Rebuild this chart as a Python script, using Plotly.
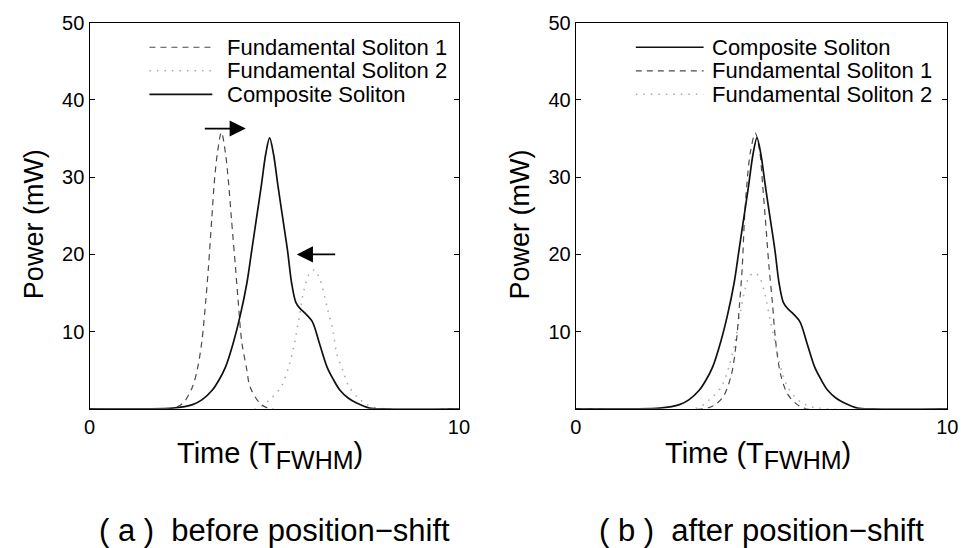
import plotly.graph_objects as go

# Time axis in units of T_FWHM, power in mW
# Composite soliton (same pulse in both panels)
t_comp = [0.0, 1.5, 2.26, 2.79, 3.05, 3.32, 3.5, 3.68, 3.90, 4.08, 4.26, 4.39, 4.52, 4.65,
          4.77, 4.875, 4.98, 5.10, 5.23, 5.36, 5.47, 5.585, 5.70, 5.81, 6.03, 6.21, 6.43,
          6.60, 6.78, 7.0, 7.23, 7.58, 8.0, 10.0]
p_comp = [0, 0, 0.1, 0.55, 1.2, 2.4, 3.7, 5.4, 8.7, 12.1, 16.3, 20.5, 24.7, 28.9,
          33.0, 35.1, 33.0, 28.9, 24.7, 20.5, 16.3, 13.8, 13.0, 12.5, 11.3, 8.7, 5.4,
          3.8, 2.4, 1.4, 0.75, 0.1, 0, 0]

# (a) before position-shift
t_s1_before = [0, 2.2, 2.53, 2.79, 2.93, 3.04, 3.15, 3.22, 3.31, 3.37, 3.46, 3.57, 3.68,
               3.77, 3.84, 3.95, 4.02, 4.12, 4.26, 4.34, 4.61, 4.9, 10]
p_s1_before = [0, 0, 0.75, 2.9, 5.4, 8.7, 14.2, 18.4, 24.7, 28.9, 33.1, 35.8, 33.1,
               28.9, 24.7, 18.4, 14.2, 8.7, 5.0, 2.9, 0.75, 0, 0]
t_s2_before = [0, 4.5, 4.88, 5.19, 5.40, 5.54, 5.67, 5.81, 5.95, 6.08, 6.22, 6.43, 6.60,
               6.69, 6.87, 7.02, 7.32, 7.7, 10]
p_s2_before = [0, 0, 1.2, 2.9, 5.6, 8.3, 11.7, 15.5, 17.5, 18.0, 17.0, 13.2, 9.8,
               7.2, 4.8, 2.9, 1.2, 0.2, 0]

# (b) after position-shift
t_s1_after = [0, 3.4, 3.70, 3.97, 4.19, 4.32, 4.41, 4.48, 4.54, 4.60, 4.70, 4.83, 4.95,
              5.03, 5.10, 5.20, 5.29, 5.38, 5.51, 5.69, 5.91, 6.2, 10]
p_s1_after = [0, 0, 0.4, 1.6, 4.5, 8.7, 13.8, 18.4, 24.7, 28.9, 33.3, 35.7, 33.3,
              28.9, 24.7, 18.4, 13.8, 8.7, 4.5, 2.0, 0.75, 0, 0]
t_s2_after = [0, 3.2, 3.60, 3.92, 4.13, 4.27, 4.40, 4.54, 4.68, 4.82, 4.96, 5.10, 5.24,
              5.38, 5.56, 5.72, 6.02, 6.4, 10]
p_s2_after = [0, 0, 1.2, 2.9, 5.6, 8.3, 11.7, 15.2, 17.2, 17.6, 16.9, 14.6, 11.3,
              8.2, 4.6, 2.7, 1.0, 0.2, 0]

x_ticks = [0, 10]
y_ticks = [10, 20, 30, 40, 50]
name_comp = "Composite Soliton"
name_s1 = "Fundamental Soliton 1"
name_s2 = "Fundamental Soliton 2"
captions = ["( a )  before position\u2212shift", "( b )  after position\u2212shift"]

W, H = 975, 548
FONT = "Liberation Sans, Arial, sans-serif"

STYLE = {
    "comp": dict(color="#111111", width=1.7, dash="solid"),
    "s1": dict(color="#4a4a4a", width=1.2, dash="6px,5px"),
    "s2": dict(color="#ababab", width=1.6, dash="1.5px,6px"),
}


def px(x):
    return x / W


def py(y):
    return 1 - y / H


fig = go.Figure()


def add_curve(t, p, key, xa, ya):
    fig.add_trace(go.Scatter(
        x=t, y=p, mode="lines", line=dict(shape="spline", smoothing=0.9, **STYLE[key]),
        xaxis=xa, yaxis=ya, showlegend=False, hoverinfo="skip"))


# panel (a)
add_curve(t_s2_before, p_s2_before, "s2", "x", "y")
add_curve(t_s1_before, p_s1_before, "s1", "x", "y")
add_curve(t_comp, p_comp, "comp", "x", "y")
# panel (b)
add_curve(t_s2_after, p_s2_after, "s2", "x2", "y2")
add_curve(t_s1_after, p_s1_after, "s1", "x2", "y2")
add_curve(t_comp, p_comp, "comp", "x2", "y2")

axis_common = dict(
    showline=True, linecolor="black", linewidth=1.3, mirror="ticks",
    ticks="inside", ticklen=5, tickwidth=1.2, tickcolor="black",
    showgrid=False, zeroline=False,
    tickfont=dict(family=FONT, size=20, color="black"),
)

plot_top, plot_bot = 12, 406
fig.update_layout(
    width=W, height=H,
    margin=dict(l=0, r=0, t=0, b=0),
    paper_bgcolor="white", plot_bgcolor="white",
    xaxis=dict(domain=[px(85), px(461)], range=[0, 10], tickvals=x_ticks,
               anchor="y", **axis_common),
    yaxis=dict(domain=[py(plot_bot), py(plot_top)], range=[0, 50], tickvals=y_ticks,
               anchor="x", **axis_common),
    xaxis2=dict(domain=[px(580), px(958)], range=[0, 10], tickvals=x_ticks,
                anchor="y2", **axis_common),
    yaxis2=dict(domain=[py(plot_bot), py(plot_top)], range=[0, 50], tickvals=y_ticks,
                anchor="x2", **axis_common),
)

annotations = []
shapes = []

# arrows marking the shift direction in panel (a)
for (x0, x1, yv) in [(3.08, 4.23, 36.3), (6.69, 5.61, 20.0)]:
    annotations.append(dict(
        x=x1, y=yv, ax=x0, ay=yv, xref="x", yref="y", axref="x", ayref="y",
        text="", showarrow=True, arrowhead=2, arrowsize=1.9, arrowwidth=1.7,
        arrowcolor="black", standoff=0, startstandoff=0))

# axis titles and captions
for i, (left, right) in enumerate([(85, 461), (580, 958)]):
    cx = (left + right) / 2
    annotations.append(dict(
        x=px(left - 57), y=py(218), xref="paper", yref="paper",
        text="Power (mW)", textangle=-90, showarrow=False,
        font=dict(family=FONT, size=27, color="black"),
        xanchor="center", yanchor="middle"))
    annotations.append(dict(
        x=px(cx - 4), y=py(454), xref="paper", yref="paper",
        text="Time (T<sub><span style='font-size:25px'>FWHM</span></sub>)",
        showarrow=False, font=dict(family=FONT, size=29, color="black"),
        xanchor="center", yanchor="middle"))
    annotations.append(dict(
        x=px(cx), y=py(530), xref="paper", yref="paper",
        text=captions[i], showarrow=False,
        font=dict(family=FONT, size=31, color="black"),
        xanchor="center", yanchor="middle"))

# legends drawn inside each panel
legend_rows = [37, 61, 85]
legends = [
    (146, 210, 223, ["s1", "s2", "comp"], [name_s1, name_s2, name_comp]),
    (641, 710, 717, ["comp", "s1", "s2"], [name_comp, name_s1, name_s2]),
]
for (lx0, lx1, tx, keys, labels) in legends:
    for row_y, key, label in zip(legend_rows, keys, labels):
        st = STYLE[key]
        shapes.append(dict(
            type="line", xref="paper", yref="paper",
            x0=px(lx0), x1=px(lx1), y0=py(row_y), y1=py(row_y),
            line=dict(color=st["color"], width=st["width"], dash=st["dash"])))
        annotations.append(dict(
            x=px(tx), y=py(row_y), xref="paper", yref="paper",
            text=label, showarrow=False, xanchor="left", yanchor="middle",
            font=dict(family=FONT, size=22, color="black")))

fig.update_layout(annotations=annotations, shapes=shapes)
fig.write_html("out.html")
